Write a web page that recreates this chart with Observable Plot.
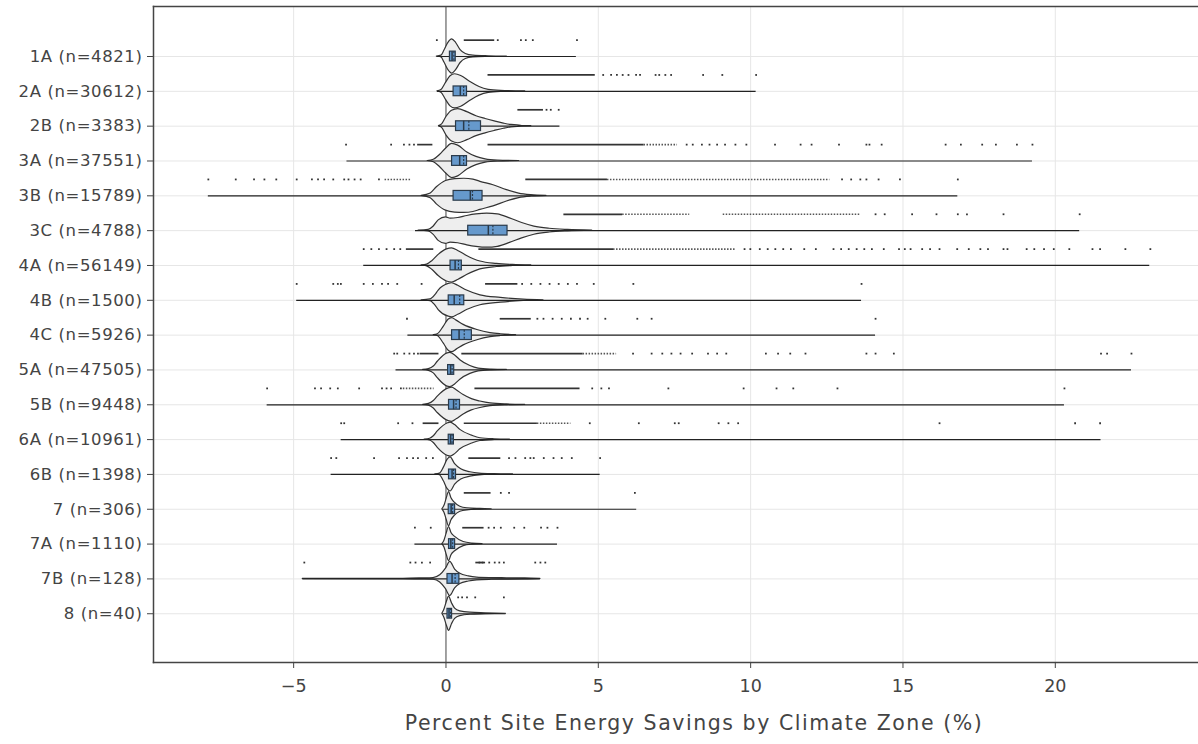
<!DOCTYPE html>
<html>
<head>
<meta charset="utf-8">
<script src="https://cdn.jsdelivr.net/npm/d3@7"></script>
<script src="https://cdn.jsdelivr.net/npm/@observablehq/plot@0.6"></script>
<style>
  body { margin: 0; background: #fff; }
  #chart { width: 1198px; height: 744px; }
</style>
</head>
<body>
<div id="chart"></div>
<script>
// ---------- data ----------
const categories = [
  "1A (n=4821)", "2A (n=30612)", "2B (n=3383)", "3A (n=37551)", "3B (n=15789)",
  "3C (n=4788)", "4A (n=56149)", "4B (n=1500)", "4C (n=5926)", "5A (n=47505)",
  "5B (n=9448)", "6A (n=10961)", "6B (n=1398)", "7 (n=306)", "7A (n=1110)",
  "7B (n=128)", "8 (n=40)"
];
const mins    = [-0.3, -0.28, -0.23, -3.25, -7.8, -1.0, -2.7, -4.9, -1.25, -1.64, -5.87, -3.44, -3.77, -0.1, -1.02, -4.7, -0.1];
const maxs    = [4.28, 10.18, 3.74, 19.25, 16.8, 20.8, 23.1, 13.64, 14.1, 22.5, 20.3, 21.5, 5.06, 6.26, 3.66, 3.1, 1.97];
const q1s     = [0.13, 0.25, 0.33, 0.2, 0.25, 0.73, 0.15, 0.09, 0.2, 0.07, 0.1, 0.09, 0.1, 0.09, 0.1, 0.05, 0.05];
const medians = [0.2, 0.47, 0.58, 0.45, 0.8, 1.39, 0.3, 0.27, 0.43, 0.15, 0.25, 0.15, 0.2, 0.17, 0.16, 0.2, 0.1];
const q3s     = [0.32, 0.69, 1.15, 0.69, 1.2, 2.02, 0.52, 0.6, 0.85, 0.27, 0.46, 0.26, 0.33, 0.3, 0.3, 0.44, 0.2];
const means   = [0.26, 0.58, 0.75, 0.58, 0.87, 1.54, 0.41, 0.45, 0.6, 0.2, 0.33, 0.2, 0.25, 0.22, 0.22, 0.3, 0.15];

// violin outlines: [x, relative half-width]
const violinShapes = [
  [[-0.3,0],[-0.15,0.05],[-0.05,0.35],[0.08,0.8],[0.2,1],[0.33,0.8],[0.48,0.38],[0.65,0.15],[0.9,0.05],[1.4,0.015],[2.0,0]],
  [[-0.28,0],[-0.15,0.08],[0,0.5],[0.15,0.88],[0.3,1],[0.5,0.9],[0.8,0.55],[1.1,0.25],[1.4,0.09],[1.8,0.03],[2.6,0]],
  [[-0.23,0],[-0.12,0.12],[0.02,0.55],[0.2,0.9],[0.4,1],[0.7,0.82],[1.0,0.58],[1.3,0.42],[1.6,0.28],[1.9,0.15],[2.15,0.07],[2.35,0.05],[2.5,0.01],[2.8,0]],
  [[-0.6,0],[-0.4,0.07],[-0.2,0.35],[0,0.72],[0.2,1],[0.4,0.9],[0.7,0.5],[1.0,0.24],[1.3,0.1],[1.7,0.03],[2.4,0]],
  [[-0.8,0],[-0.5,0.14],[-0.3,0.5],[0,0.87],[0.3,0.98],[0.6,1],[0.9,0.95],[1.13,0.82],[1.56,0.62],[2.0,0.33],[2.4,0.13],[2.8,0.04],[3.3,0]],
  [[-0.9,0],[-0.57,0.04],[-0.41,0.23],[-0.24,0.6],[0,0.78],[0.15,0.7],[0.4,0.74],[0.7,0.86],[1.0,0.95],[1.35,1],[1.7,0.95],[2.1,0.72],[2.5,0.45],[2.9,0.24],[3.4,0.11],[4.0,0.04],[4.8,0]],
  [[-0.8,0],[-0.62,0.05],[-0.45,0.25],[-0.24,0.62],[0.03,0.94],[0.2,1],[0.4,0.85],[0.69,0.56],[1.13,0.23],[1.67,0.09],[2.2,0.03],[2.8,0]],
  [[-0.8,0],[-0.51,0.05],[-0.35,0.3],[-0.24,0.57],[0.09,0.96],[0.2,1],[0.4,0.85],[0.69,0.57],[1.13,0.29],[1.8,0.14],[2.55,0.04],[3.2,0]],
  [[-0.4,0],[-0.27,0.05],[-0.07,0.5],[0.08,0.9],[0.2,1],[0.35,0.85],[0.58,0.6],[1.03,0.3],[1.46,0.12],[1.8,0.05],[2.3,0]],
  [[-0.75,0],[-0.56,0.05],[-0.4,0.2],[-0.27,0.48],[0.03,0.96],[0.14,1],[0.3,0.85],[0.47,0.57],[0.8,0.23],[1.07,0.08],[1.5,0.02],[2.0,0]],
  [[-0.75,0],[-0.56,0.05],[-0.4,0.22],[-0.27,0.48],[0.09,0.96],[0.2,1],[0.35,0.85],[0.58,0.57],[0.85,0.33],[1.13,0.19],[1.46,0.08],[2.0,0.02],[2.6,0]],
  [[-0.7,0],[-0.52,0.05],[-0.4,0.2],[-0.27,0.48],[0.07,0.96],[0.15,1],[0.3,0.85],[0.47,0.57],[0.86,0.23],[1.13,0.08],[1.6,0.02],[2.1,0]],
  [[-0.35,0],[-0.2,0.05],[-0.07,0.4],[0.05,0.85],[0.15,1],[0.3,0.6],[0.5,0.3],[0.8,0.13],[1.1,0.05],[1.6,0.015],[2.2,0]],
  [[-0.12,0],[-0.05,0.2],[0.02,0.6],[0.1,1],[0.18,0.65],[0.28,0.4],[0.47,0.15],[0.7,0.06],[1.13,0.02],[1.5,0]],
  [[-0.12,0],[-0.05,0.2],[0.02,0.6],[0.1,1],[0.18,0.65],[0.3,0.42],[0.58,0.12],[0.86,0.03],[1.2,0]],
  [[-4.7,0],[-1.4,0.01],[-0.8,0.03],[-0.41,0.05],[-0.19,0.21],[0.0,0.6],[0.14,1],[0.3,0.55],[0.47,0.3],[0.75,0.15],[1.02,0.08],[1.5,0.05],[2.0,0.04],[2.6,0.03],[3.1,0]],
  [[-0.12,0],[-0.05,0.25],[0.03,0.7],[0.1,1],[0.2,0.6],[0.3,0.3],[0.47,0.14],[0.8,0.06],[1.3,0.03],[1.97,0]]
];

// outliers: dense runs [from, to], looser runs [from, to], single points
const denseRuns = [
  [[0.6, 1.6]],
  [[1.38, 4.9]],
  [[2.36, 3.2]],
  [[-0.93, -0.43], [1.38, 6.5]],
  [[2.62, 5.3]],
  [[3.87, 5.8]],
  [[-1.3, -0.4], [1.08, 5.5]],
  [[1.3, 2.36]],
  [[1.78, 2.8]],
  [[-0.85, -0.23], [0.52, 4.5]],
  [[0.95, 4.4]],
  [[-0.75, -0.23], [0.6, 3.0]],
  [[0.75, 1.8]],
  [[0.6, 1.48]],
  [[0.55, 1.25]],
  [[0.98, 1.3]],
  []
];
const looseRuns = [
  [],
  [],
  [],
  [[6.5, 7.6]],
  [[-2.0, -1.15], [5.3, 12.6]],
  [[5.8, 8.0], [9.1, 13.6]],
  [[5.5, 9.5]],
  [],
  [],
  [[4.5, 5.6]],
  [[-1.4, -0.39]],
  [[3.0, 4.1]],
  [],
  [],
  [],
  [],
  []
];
const outlierDots = [
  [-0.3, 1.7, 2.46, 2.62, 2.85, 4.3],
  [5.16, 5.42, 5.61, 5.8, 5.99, 6.24, 6.37, 6.88, 7.0, 7.2, 7.39, 8.44, 9.07, 10.18],
  [3.3, 3.44, 3.7],
  [-3.28, -1.8, -1.38, -1.2, -1.05, 7.9, 8.1, 8.4, 8.65, 8.9, 9.16, 9.5, 9.86, 10.8, 11.64, 12.0, 12.9, 13.8, 13.9, 14.3, 16.4, 16.9, 17.6, 18.05, 18.74, 19.25],
  [-7.8, -6.9, -6.3, -5.96, -5.57, -4.9, -4.4, -4.2, -4.0, -3.7, -3.34, -3.2, -3.0, -2.8, -2.2, 13.0, 13.3, 13.6, 13.8, 14.2, 14.9, 16.8],
  [14.1, 14.4, 15.3, 16.1, 16.8, 17.1, 18.3, 20.8],
  [-2.7, -2.45, -2.2, -1.95, -1.7, -1.5, 9.8, 9.99, 10.3, 10.56, 10.81, 11.07, 11.32, 11.76, 12.14, 12.72, 12.97, 13.22, 13.48, 13.73, 13.98, 14.37, 14.87, 15.06, 15.25, 15.63, 15.89, 16.2, 16.78, 17.16, 17.54, 17.79, 18.3, 18.43, 19.06, 19.31, 19.63, 19.95, 20.46, 21.22, 21.47, 22.3, 23.12],
  [-4.9, -3.7, -3.55, -3.45, -2.7, -2.4, -2.1, -1.9, -1.6, -0.8, 2.5, 2.8, 3.1, 3.4, 3.7, 4.0, 4.3, 4.85, 6.15, 13.64],
  [-1.28, 3.0, 3.2, 3.5, 3.8, 4.1, 4.4, 4.65, 5.23, 6.28, 6.75, 14.1],
  [-1.7, -1.6, -1.37, -1.2, -1.05, -0.92, 6.14, 6.75, 7.1, 7.4, 7.7, 8.08, 8.6, 8.9, 9.2, 10.5, 10.9, 11.3, 11.8, 13.8, 14.1, 14.7, 21.5, 21.7, 22.5],
  [-5.87, -4.3, -4.1, -3.8, -3.55, -2.85, -2.1, -1.95, -1.8, -1.48, 4.8, 5.1, 5.35, 7.3, 9.77, 10.85, 11.4, 12.85, 20.3],
  [-3.44, -3.34, -1.57, -1.1, 4.72, 6.33, 7.51, 7.64, 8.95, 9.27, 9.59, 16.2, 20.65, 21.47],
  [-3.77, -3.6, -2.36, -1.54, -1.28, -1.08, -0.92, -0.65, -0.43, 2.07, 2.28, 2.6, 2.77, 2.88, 3.21, 3.53, 3.8, 4.13, 5.06],
  [1.8, 2.07, 6.2],
  [-1.02, -0.5, 1.4, 1.58, 1.8, 2.24, 2.57, 3.12, 3.33, 3.66],
  [-4.65, -1.17, -1.0, -0.79, -0.52, 1.1, 1.2, 1.42, 1.6, 1.75, 1.9, 2.93, 3.1, 3.26],
  [0.4, 0.53, 0.69, 0.96, 1.9]
];

const xTicks = [-5, 0, 5, 10, 15, 20];
const xTitle = "Percent Site Energy Savings by Climate Zone (%)";

// ---------- layout constants ----------
const VIOLIN_HALF = 0.49;  // in row units
const BOX_HALF = 0.14;
const POINT_OFFSET = -0.47;

const rowIndex = categories.map((c, i) => i);
const violinRows = categories.flatMap((c, i) =>
  violinShapes[i].map(([x, w]) => ({i, x, lo: i - w * VIOLIN_HALF, hi: i + w * VIOLIN_HALF})));
const denseRows = categories.flatMap((c, i) => denseRuns[i].map(([a, b]) => ({y: i + POINT_OFFSET, x1: a, x2: b})));
const looseRows = categories.flatMap((c, i) => looseRuns[i].map(([a, b]) => ({y: i + POINT_OFFSET, x1: a, x2: b})));
const dotRows = categories.flatMap((c, i) => outlierDots[i].map(x => ({y: i + POINT_OFFSET, x})));

const fmtX = d => d < 0 ? "\u2212" + Math.abs(d) : String(d);

const plot = Plot.plot({
  width: 1198,
  height: 744,
  marginLeft: 153,
  marginRight: 0,
  marginTop: 6,
  marginBottom: 82,
  style: {fontFamily: "'DejaVu Sans', Verdana, sans-serif", color: "#444", background: "#fff", overflow: "visible"},
  x: {domain: [-9.6, 24.7]},
  y: {domain: [17.4, -1.436]},
  marks: [
    Plot.gridX(xTicks.filter(d => d !== 0), {stroke: "#e6e6e6", strokeOpacity: 1, strokeWidth: 1}),
    Plot.gridY(rowIndex, {stroke: "#e6e6e6", strokeOpacity: 1, strokeWidth: 1}),
    Plot.ruleX([0], {stroke: "#444", strokeWidth: 1}),
    Plot.ruleY(looseRows, {y: "y", x1: "x1", x2: "x2", stroke: "#555", strokeWidth: 1.6, strokeDasharray: "1.5,1.5"}),
    Plot.ruleY(denseRows, {y: "y", x1: "x1", x2: "x2", stroke: "#333", strokeWidth: 1.7}),
    Plot.dot(dotRows, {x: "x", y: "y", r: 1, fill: "#333", stroke: null, symbol: "square"}),
    Plot.areaY(violinRows, {x: "x", y1: "lo", y2: "hi", z: "i", fill: "#eeeeee", stroke: "#333", strokeWidth: 1.2, curve: "monotone-x"}),
    Plot.ruleY(rowIndex, {y: i => i, x1: i => mins[i], x2: i => maxs[i], stroke: "#222", strokeWidth: 1.2}),
    Plot.rect(rowIndex, {x1: i => q1s[i], x2: i => q3s[i], y1: i => i - BOX_HALF, y2: i => i + BOX_HALF, fill: "#6699cc", stroke: "#2a3a4a", strokeWidth: 1.2}),
    Plot.ruleX(rowIndex, {x: i => medians[i], y1: i => i - BOX_HALF, y2: i => i + BOX_HALF, stroke: "#2a3a4a", strokeWidth: 1.5}),
    Plot.ruleX(rowIndex, {x: i => means[i], y1: i => i - BOX_HALF, y2: i => i + BOX_HALF, stroke: "#2a3a4a", strokeWidth: 1.2, strokeDasharray: "2,1.5"}),
    Plot.frame({anchor: "top", stroke: "#444", strokeWidth: 1.5}),
    Plot.frame({anchor: "left", stroke: "#444", strokeWidth: 1.5}),
    Plot.frame({anchor: "bottom", stroke: "#444", strokeWidth: 1.5}),
    Plot.axisY({ticks: rowIndex, tickFormat: i => categories[i], tickSize: 6, tickPadding: 5, fontSize: 16.5, label: null, stroke: "#444"}),
    Plot.axisX({ticks: xTicks, tickFormat: fmtX, tickSize: 6, tickPadding: 11, fontSize: 17.5, label: null, stroke: "#444"}),
    Plot.text([xTitle], {frameAnchor: "bottom", dx: 18, dy: 67, fontSize: 20.5, fill: "#444"})
  ]
});
// widen glyph spacing to match the reference's wider typeface
d3.select(plot).selectAll("text").each(function() {
  const t = this.textContent;
  if (t === xTitle) this.setAttribute("letter-spacing", "1.55px");
  else if (categories.includes(t)) this.setAttribute("letter-spacing", "0.6px");
});
document.getElementById("chart").append(plot);
</script>
</body>
</html>
